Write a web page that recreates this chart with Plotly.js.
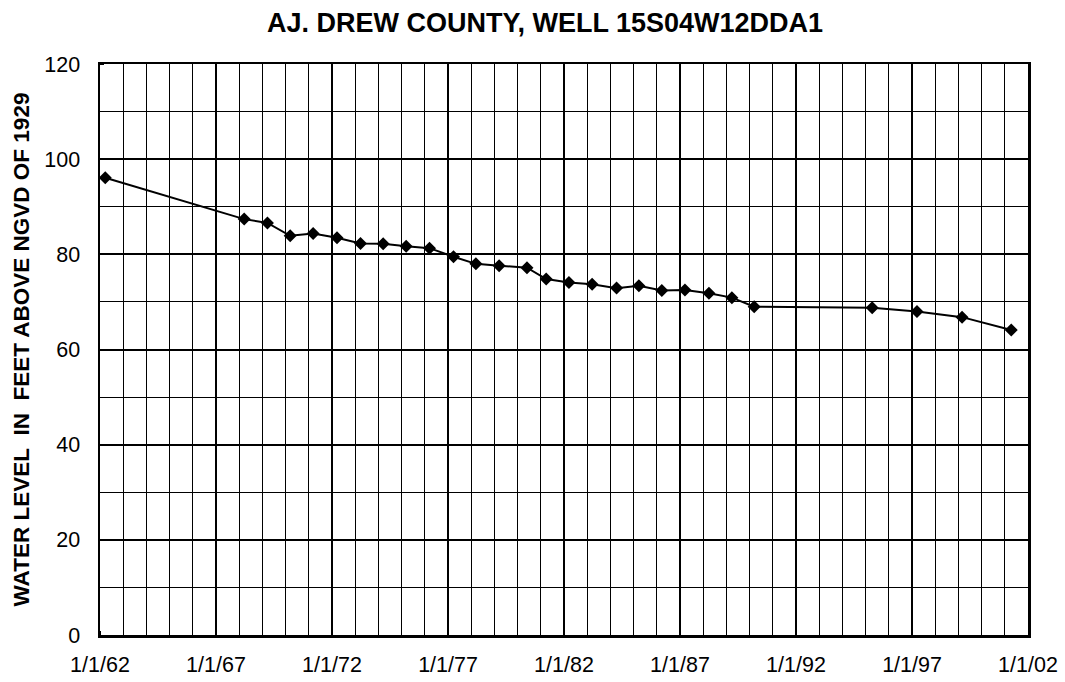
<!DOCTYPE html>
<html>
<head>
<meta charset="utf-8">
<script src="https://cdn.plot.ly/plotly-3.0.1.min.js"></script>
<style>
  html, body { margin: 0; padding: 0; background: #fff; }
  #chart { width: 1065px; height: 682px; }
</style>
</head>
<body>
<div id="chart"></div>
<script>
const dates = [
  "1962-03-25", "1968-03-20", "1969-03-21", "1970-03-14", "1971-03-10",
  "1972-03-20", "1973-03-25", "1974-03-17", "1975-03-14", "1976-03-16",
  "1977-03-28", "1978-03-16", "1979-03-17", "1980-05-28", "1981-03-27",
  "1982-03-20", "1983-03-20", "1984-04-08", "1985-03-25", "1986-03-21",
  "1987-03-20", "1988-04-01", "1989-03-28", "1990-03-14", "1995-04-15",
  "1997-03-20", "1999-02-28", "2001-04-12"
];
// Water level in feet above NGVD of 1929
const waterLevel = [
  96.1, 87.4, 86.6, 83.9, 84.4,
  83.5, 82.3, 82.2, 81.7, 81.3,
  79.5, 78.0, 77.6, 77.2, 74.8,
  74.1, 73.7, 72.9, 73.4, 72.4,
  72.5, 71.8, 70.9, 69.0, 68.8,
  68.0, 66.8, 64.1
];
const xTickVals = ["1962-01-01", "1967-01-01", "1972-01-01", "1977-01-01", "1982-01-01",
                   "1987-01-01", "1992-01-01", "1997-01-01", "2002-01-01"];
const xTickText = ["1/1/62", "1/1/67", "1/1/72", "1/1/77", "1/1/82",
                   "1/1/87", "1/1/92", "1/1/97", "1/1/02"];
const yTickVals = [0, 20, 40, 60, 80, 100, 120];

const titleText = "AJ. DREW COUNTY, WELL 15S04W12DDA1";
const yTitleText = "WATER LEVEL\u00A0\u00A0IN\u00A0\u00A0FEET ABOVE NGVD OF 1929";

const FONT = "Liberation Sans, Arial, Helvetica, sans-serif";

const trace = {
  x: dates,
  y: waterLevel,
  type: "scatter",
  mode: "lines+markers",
  line: { color: "#000", width: 2 },
  marker: { symbol: "diamond", size: 10, color: "#000" },
  hoverinfo: "x+y",
  showlegend: false
};

const layout = {
  width: 1065,
  height: 682,
  paper_bgcolor: "#fff",
  plot_bgcolor: "#fff",
  margin: { l: 100, r: 37, t: 64, b: 47 },
  font: { family: FONT, color: "#000", size: 21 },
  title: {
    text: "<b>" + titleText + "</b>",
    font: { family: FONT, size: 27, color: "#000" },
    xref: "container", yref: "container",
    x: 545 / 1065, xanchor: "center",
    y: 1 - 23 / 682, yanchor: "middle"
  },
  xaxis: {
    type: "date",
    range: ["1962-01-01", "2002-01-01"],
    tickmode: "array",
    tickvals: xTickVals,
    ticktext: xTickText,
    ticks: "",
    ticklabelstandoff: 9,
    tickfont: { family: FONT, size: 21.5, color: "#000" },
    showgrid: true,
    gridcolor: "#000",
    gridwidth: 2,
    showline: true,
    linecolor: "#000",
    linewidth: 2.5,
    mirror: true,
    zeroline: false,
    minor: {
      dtick: "M12",
      tick0: "1962-01-01",
      showgrid: true,
      gridcolor: "#000",
      gridwidth: 1,
      ticks: "inside",
      ticklen: 4,
      tickcolor: "#000",
      tickwidth: 1
    }
  },
  yaxis: {
    range: [0, 120],
    tickmode: "array",
    tickvals: yTickVals,
    ticks: "",
    ticklabelstandoff: 13,
    tickfont: { family: FONT, size: 21.5, color: "#000" },
    showgrid: true,
    gridcolor: "#000",
    gridwidth: 2,
    showline: true,
    linecolor: "#000",
    linewidth: 2.5,
    mirror: true,
    zeroline: false,
    title: {
      text: "<b>" + yTitleText + "</b>",
      font: { family: FONT, size: 22.5, color: "#000" },
      standoff: 9
    },
    minor: {
      dtick: 10,
      showgrid: true,
      gridcolor: "#000",
      gridwidth: 1,
      ticks: "inside",
      ticklen: 4,
      tickcolor: "#000",
      tickwidth: 1
    }
  }
};

Plotly.newPlot("chart", [trace], layout, { displayModeBar: false, staticPlot: true });
</script>
</body>
</html>
